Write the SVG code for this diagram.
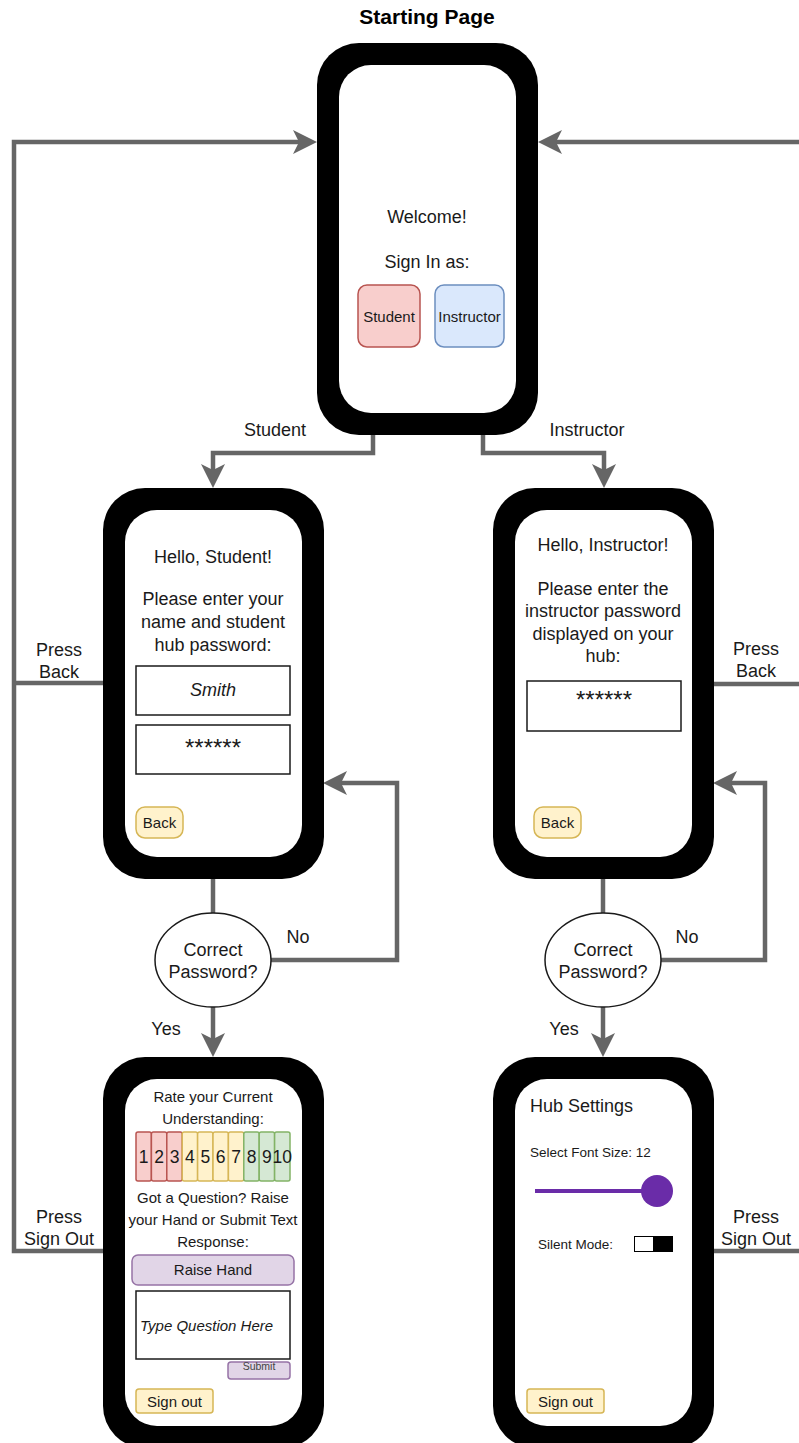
<svg xmlns="http://www.w3.org/2000/svg" width="799" height="1443" viewBox="0 0 799 1443">
  <style>
    text { font-family: "Liberation Sans", Arial, sans-serif; fill: #1a1a1a; }
    .t18 { font-size: 18px; }
    .t15 { font-size: 15px; }
    .t13 { font-size: 13.5px; }
    .mid { text-anchor: middle; }
    .it { font-style: italic; }
    .frame { fill: #000; }
    .screen { fill: #fff; }
    .edge { fill: none; stroke: #666666; stroke-width: 4.5; stroke-linejoin: miter; }
    .arrow { marker-end: url(#head); }
    .field { fill: #fff; stroke: #1a1a1a; stroke-width: 1.5; }
    .red { fill: #f8cecc; stroke: #b85450; stroke-width: 1.5; }
    .blue { fill: #dae8fc; stroke: #6c8ebf; stroke-width: 1.5; }
    .yellow { fill: #fff2cc; stroke: #d6b656; stroke-width: 1.5; }
    .green { fill: #d5e8d4; stroke: #82b366; stroke-width: 1.5; }
    .purple { fill: #e1d5e7; stroke: #9673a6; stroke-width: 1.5; }
    .decision { fill: #fff; stroke: #1a1a1a; stroke-width: 1.5; }
  </style>
  <defs>
    <marker id="head" markerUnits="userSpaceOnUse" viewBox="0 0 24 24" refX="12" refY="12" markerWidth="24" markerHeight="24" orient="auto">
      <path d="M0,0 L24,12 L0,24 L6,12 Z" fill="#666666"/>
    </marker>
  </defs>

  <rect width="799" height="1443" fill="#fff"/>

  <!-- connectors -->
  <g id="connectors">
    <path class="edge arrow" d="M103,1251 H14 V142 H305"/>
    <path class="edge" d="M103,683 H14"/>
    <path class="edge arrow" d="M713,1251 H803 V142 H550"/>
    <path class="edge" d="M713,684 H803"/>
    <path class="edge arrow" d="M373,435 V453 H213 V476"/>
    <path class="edge arrow" d="M483,435 V453 H604 V476"/>
    <path class="edge" d="M213,878 V913"/>
    <path class="edge arrow" d="M213,1007 V1045"/>
    <path class="edge arrow" d="M271,960 H397 V783 H335"/>
    <path class="edge" d="M603,878 V913"/>
    <path class="edge arrow" d="M603,1007 V1045"/>
    <path class="edge arrow" d="M661,960 H765 V783 H725"/>
  </g>

  <!-- connector labels -->
  <g id="edge-labels" class="t18">
    <text class="mid" x="275" y="436">Student</text>
    <text class="mid" x="587" y="436">Instructor</text>
    <text class="mid" x="59" y="656">Press</text>
    <text class="mid" x="59" y="678">Back</text>
    <text class="mid" x="756" y="655">Press</text>
    <text class="mid" x="756" y="677">Back</text>
    <text class="mid" x="59" y="1223">Press</text>
    <text class="mid" x="59" y="1245">Sign Out</text>
    <text class="mid" x="756" y="1223">Press</text>
    <text class="mid" x="756" y="1245">Sign Out</text>
    <text class="mid" x="298" y="943">No</text>
    <text class="mid" x="687" y="943">No</text>
    <text class="mid" x="166" y="1035">Yes</text>
    <text class="mid" x="564" y="1035">Yes</text>
  </g>

  <!-- start screen -->
  <g id="start-page">
    <text class="mid" x="427" y="24" style="font-size:21px;font-weight:bold;fill:#000">Starting Page</text>
    <rect class="frame" x="317" y="43" width="221" height="392" rx="42"/>
    <rect class="screen" x="339" y="65" width="177" height="348" rx="32"/>
    <text class="t18 mid" x="427" y="223">Welcome!</text>
    <text class="t18 mid" x="427" y="268">Sign In as:</text>
    <rect class="red" x="358" y="285" width="62" height="62" rx="9"/>
    <text class="t15 mid" x="389" y="322">Student</text>
    <rect class="blue" x="435" y="285" width="69" height="62" rx="9"/>
    <text class="t15 mid" x="469.5" y="322">Instructor</text>
  </g>

  <!-- student sign-in screen -->
  <g id="student-login">
    <rect class="frame" x="103" y="488" width="221" height="391" rx="42"/>
    <rect class="screen" x="125" y="510" width="177" height="347" rx="32"/>
    <text class="t18 mid" x="213" y="563">Hello, Student!</text>
    <text class="t18 mid" x="213" y="605">Please enter your</text>
    <text class="t18 mid" x="213" y="628">name and student</text>
    <text class="t18 mid" x="213" y="651">hub password:</text>
    <rect class="field" x="136" y="666" width="154" height="49"/>
    <text class="t18 mid it" x="213" y="696">Smith</text>
    <rect class="field" x="136" y="725" width="154" height="49"/>
    <text class="mid" x="213" y="756" style="font-size:24px">******</text>
    <rect class="yellow" x="136" y="807" width="47" height="31" rx="9"/>
    <text class="t15 mid" x="159.5" y="828">Back</text>
  </g>

  <!-- instructor sign-in screen -->
  <g id="instructor-login">
    <rect class="frame" x="493" y="488" width="221" height="391" rx="42"/>
    <rect class="screen" x="515" y="510" width="177" height="347" rx="32"/>
    <text class="t18 mid" x="603" y="551">Hello, Instructor!</text>
    <text class="t18 mid" x="603" y="595">Please enter the</text>
    <text class="t18 mid" x="603" y="617">instructor password</text>
    <text class="t18 mid" x="603" y="640">displayed on your</text>
    <text class="t18 mid" x="603" y="662">hub:</text>
    <rect class="field" x="527" y="681" width="154" height="50"/>
    <text class="mid" x="604" y="708" style="font-size:24px">******</text>
    <rect class="yellow" x="534" y="807" width="47" height="31" rx="9"/>
    <text class="t15 mid" x="557.5" y="828">Back</text>
  </g>

  <!-- password checks -->
  <g id="student-check">
    <ellipse class="decision" cx="213" cy="960" rx="58" ry="47"/>
    <text class="t18 mid" x="213" y="956">Correct</text>
    <text class="t18 mid" x="213" y="978">Password?</text>
  </g>
  <g id="instructor-check">
    <ellipse class="decision" cx="603" cy="960" rx="58" ry="47"/>
    <text class="t18 mid" x="603" y="956">Correct</text>
    <text class="t18 mid" x="603" y="978">Password?</text>
  </g>

  <!-- student session screen -->
  <g id="student-session">
    <rect class="frame" x="103" y="1057" width="221" height="391" rx="42"/>
    <rect class="screen" x="125" y="1079" width="177" height="347" rx="32"/>
    <text class="t15 mid" x="213" y="1102">Rate your Current</text>
    <text class="t15 mid" x="213" y="1124">Understanding:</text>
    <g id="rating-scale">
      <rect class="red" x="136" y="1132" width="15.4" height="49" rx="2"/>
      <rect class="red" x="151.4" y="1132" width="15.4" height="49" rx="2"/>
      <rect class="red" x="166.8" y="1132" width="15.4" height="49" rx="2"/>
      <rect class="yellow" x="182.2" y="1132" width="15.4" height="49" rx="2"/>
      <rect class="yellow" x="197.6" y="1132" width="15.4" height="49" rx="2"/>
      <rect class="yellow" x="213" y="1132" width="15.4" height="49" rx="2"/>
      <rect class="yellow" x="228.4" y="1132" width="15.4" height="49" rx="2"/>
      <rect class="green" x="243.8" y="1132" width="15.4" height="49" rx="2"/>
      <rect class="green" x="259.2" y="1132" width="15.4" height="49" rx="2"/>
      <rect class="green" x="274.6" y="1132" width="15.4" height="49" rx="2"/>
      <g class="mid" style="font-size:17.5px">
        <text x="143.7" y="1163">1</text>
        <text x="159.1" y="1163">2</text>
        <text x="174.5" y="1163">3</text>
        <text x="189.9" y="1163">4</text>
        <text x="205.3" y="1163">5</text>
        <text x="220.7" y="1163">6</text>
        <text x="236.1" y="1163">7</text>
        <text x="251.5" y="1163">8</text>
        <text x="266.9" y="1163">9</text>
        <text x="282.3" y="1163">10</text>
      </g>
    </g>
    <text class="t15 mid" x="213" y="1203">Got a Question? Raise</text>
    <text class="t15 mid" x="213" y="1225">your Hand or Submit Text</text>
    <text class="t15 mid" x="213" y="1247">Response:</text>
    <rect class="purple" x="132" y="1255" width="162" height="30" rx="6"/>
    <text class="t15 mid" x="213" y="1275">Raise Hand</text>
    <rect class="field" x="136" y="1291" width="154" height="68"/>
    <text class="t15 it" x="140" y="1331">Type Question Here</text>
    <rect class="purple" x="228" y="1362" width="62" height="17" rx="3"/>
    <text class="mid" x="259" y="1370" style="font-size:10.5px;fill:#444">Submit</text>
    <rect class="yellow" x="136" y="1389" width="77" height="24" rx="3"/>
    <text class="t15 mid" x="174.5" y="1407">Sign out</text>
  </g>

  <!-- hub settings screen -->
  <g id="hub-settings">
    <rect class="frame" x="493" y="1057" width="221" height="391" rx="42"/>
    <rect class="screen" x="515" y="1079" width="177" height="347" rx="32"/>
    <text class="t18" x="530" y="1112">Hub Settings</text>
    <text class="t13" x="530" y="1157">Select Font Size: 12</text>
    <line x1="535" y1="1191" x2="657" y2="1191" stroke="#6a2ca8" stroke-width="4"/>
    <circle cx="657" cy="1191" r="16" fill="#6a2ca8"/>
    <text class="t13" x="538" y="1249">Silent Mode:</text>
    <rect x="634" y="1236" width="39" height="16" fill="#000"/>
    <rect x="635" y="1237" width="18" height="14" fill="#fff"/>
    <rect class="yellow" x="527" y="1389" width="77" height="24" rx="3"/>
    <text class="t15 mid" x="565.5" y="1407">Sign out</text>
  </g>
</svg>
